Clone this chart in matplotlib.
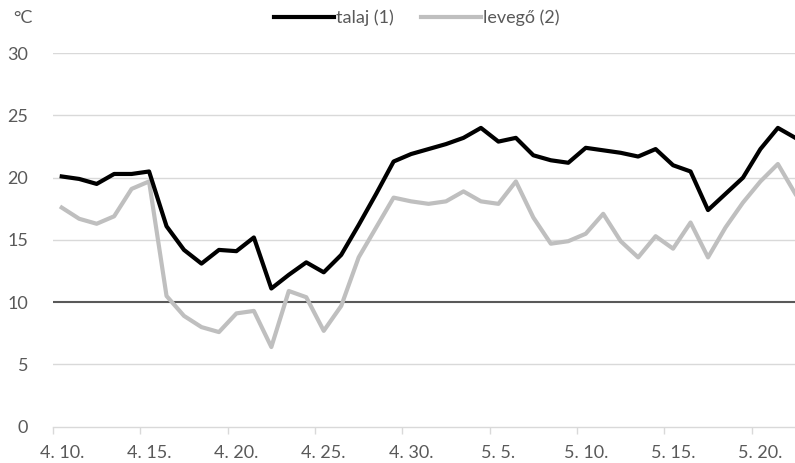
import matplotlib
matplotlib.use("Agg")
import matplotlib.pyplot as plt
from matplotlib.ticker import FixedLocator, NullFormatter, FixedFormatter

plt.rcParams['font.family'] = ['Lato', 'DejaVu Sans']

# day index 0 = 4.10, 42 = 5.22
tick_labels = ["4. 10.", "4. 15.", "4. 20.", "4. 25.", "4. 30.",
               "5. 5.", "5. 10.", "5. 15.", "5. 20."]

talaj = [20.1, 19.9, 19.5, 20.3, 20.3, 20.5, 16.1, 14.2, 13.1, 14.2,
         14.1, 15.2, 11.1, 12.2, 13.2, 12.4, 13.8, 16.2, 18.7, 21.3,
         21.9, 22.3, 22.7, 23.2, 24.0, 22.9, 23.2, 21.8, 21.4, 21.2,
         22.4, 22.2, 22.0, 21.7, 22.3, 21.0, 20.5, 17.4, 18.7, 20.0,
         22.3, 24.0, 23.2]

levego = [17.6, 16.7, 16.3, 16.9, 19.1, 19.7, 10.5, 8.9, 8.0, 7.6,
          9.1, 9.3, 6.4, 10.9, 10.4, 7.7, 9.7, 13.6, 16.0, 18.4,
          18.1, 17.9, 18.1, 18.9, 18.1, 17.9, 19.7, 16.8, 14.7, 14.9,
          15.5, 17.1, 14.9, 13.6, 15.3, 14.3, 16.4, 13.6, 16.0, 18.0,
          19.7, 21.1, 18.7]

threshold = 10

fig = plt.figure(figsize=(7.95, 4.63), dpi=100)
ax = fig.add_axes([53/795, 1-426.7/463, 1-53/795, (426.7-53.2)/463])

x = list(range(len(talaj)))
grid_c = '#d9d9d9'
text_c = '#595959'

ax.set_ylim(0, 30)
ax.set_xlim(-0.5, 41.98)
ax.set_yticks([0, 5, 10, 15, 20, 25, 30])
for yv in [5, 15, 20, 25, 30]:
    ax.axhline(yv, color=grid_c, lw=1.0, zorder=1)
ax.axhline(threshold, color='#595959', lw=1.5, zorder=2)

ax.plot(x, talaj, color='black', lw=3.0, label='talaj (1)', zorder=4,
        solid_joinstyle='round')
ax.plot(x, levego, color='#bfbfbf', lw=3.0, label='levegő (2)', zorder=3,
        solid_joinstyle='round')

for s in ['top', 'right', 'left']:
    ax.spines[s].set_visible(False)
ax.spines['bottom'].set_color(grid_c)
ax.spines['bottom'].set_linewidth(1.0)

ax.tick_params(axis='y', length=0, labelsize=13, labelcolor=text_c, pad=18)
ax.xaxis.set_major_locator(FixedLocator([-0.5 + 5*k for k in range(9)]))
ax.xaxis.set_major_formatter(NullFormatter())
ax.xaxis.set_minor_locator(FixedLocator([5*k for k in range(9)]))
ax.xaxis.set_minor_formatter(FixedFormatter(tick_labels))
ax.tick_params(axis='x', which='major', length=5, color=grid_c, width=1.0)
ax.tick_params(axis='x', which='minor', length=0, labelsize=13,
               labelcolor=text_c, pad=13)

fig.text(13/795, 1-18/463, '°C', fontsize=13, color=text_c,
         ha='left', va='center')

leg = fig.legend(loc='center', bbox_to_anchor=(417/795, 1-18/463), ncol=2,
                 frameon=False, fontsize=13, handlelength=3.3,
                 handletextpad=0.15, columnspacing=1.5, borderpad=0)
for t in leg.get_texts():
    t.set_color(text_c)

fig.savefig('out.png', dpi=100)
